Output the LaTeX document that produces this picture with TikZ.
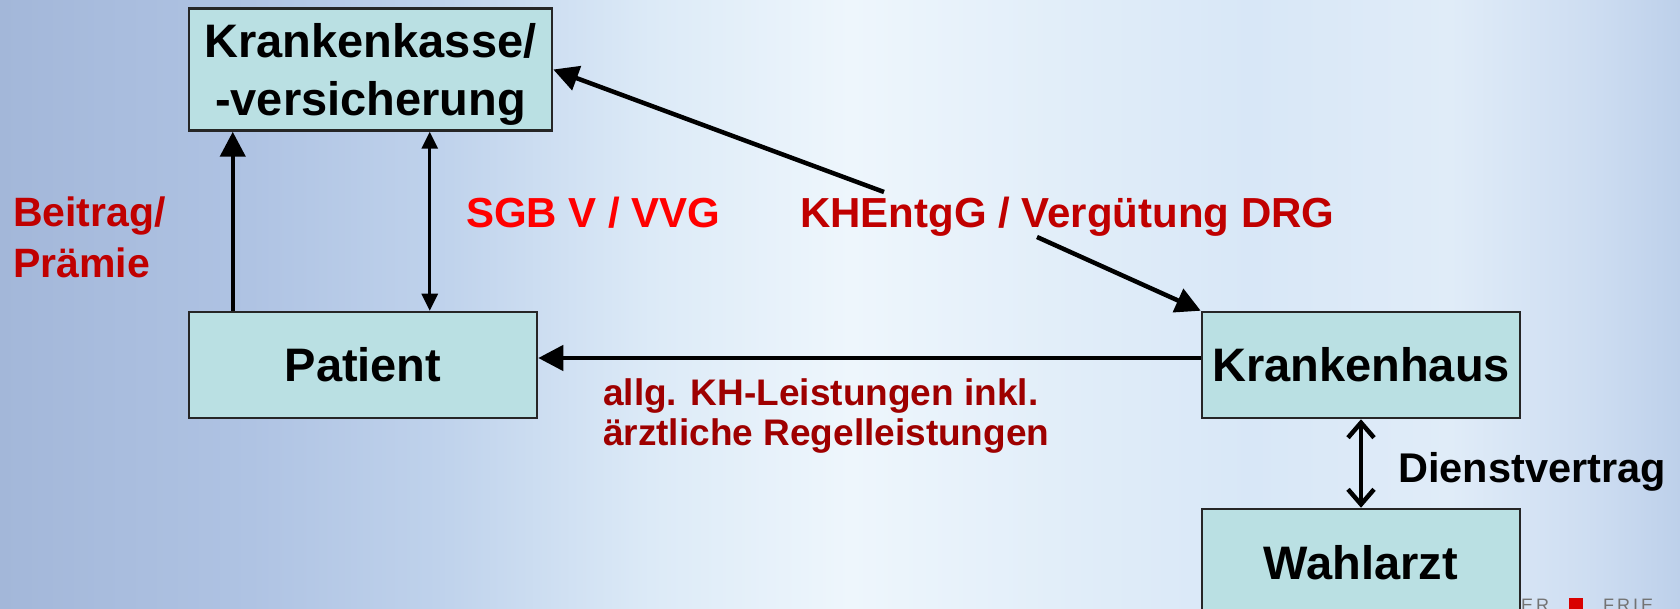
\documentclass[tikz,border=0pt]{standalone}
\usepackage{fontspec}
\setmainfont{Liberation Sans}
\usetikzlibrary{arrows.meta}
\definecolor{boxfill}{HTML}{BAE0E3}
\definecolor{dred}{HTML}{C00000}
\definecolor{ddred}{HTML}{9E0000}
\definecolor{bred}{HTML}{FF0000}
\definecolor{bgA}{HTML}{A3B7D9}
\definecolor{bgB}{HTML}{AFC3E3}
\definecolor{bgC}{HTML}{C0D3EC}
\definecolor{bgD}{HTML}{DCEAF7}
\definecolor{bgE}{HTML}{EEF6FC}
\definecolor{bgF}{HTML}{E2EEF9}
\definecolor{bgG}{HTML}{D8E7F7}
\definecolor{bgH}{HTML}{E0ECF8}
\definecolor{bgI}{HTML}{CCDCF1}
\definecolor{bgJ}{HTML}{BDD0EA}
\begin{document}
\begin{tikzpicture}[x=1pt,y=-1pt,
  box/.style={draw=black!85, line width=2.5pt, fill=boxfill, inner sep=0pt,
    align=center, font=\bfseries\fontsize{47}{58}\selectfont},
  arr/.style={line width=4.5pt, -{Triangle[length=25pt,width=25pt]}},
  sarr/.style={line width=3pt, {Triangle[length=17pt,width=16pt]}-{Triangle[length=17pt,width=16pt]}},
  barb/.style={line width=4.5pt, line cap=round, {Straight Barb[length=15pt,width=26pt,line width=4.5pt]}-{Straight Barb[length=15pt,width=26pt,line width=4.5pt]}},
  lbl/.style={anchor=base west, inner sep=0pt, align=left}]
\useasboundingbox (0,0) rectangle (1680,609);
\clip (0,0) rectangle (1680,609);
% background
\shade[left color=bgA, right color=bgB] (0,0) rectangle (250.5,609);
\shade[left color=bgB, right color=bgC] (250,0) rectangle (450.5,609);
\shade[left color=bgC, right color=bgD] (450,0) rectangle (650.5,609);
\shade[left color=bgD, right color=bgE] (650,0) rectangle (850.5,609);
\shade[left color=bgE, right color=bgF] (850,0) rectangle (1050.5,609);
\shade[left color=bgF, right color=bgG] (1050,0) rectangle (1250.5,609);
\shade[left color=bgG, right color=bgH] (1250,0) rectangle (1450.5,609);
\shade[left color=bgH, right color=bgI] (1450,0) rectangle (1600.5,609);
\shade[left color=bgI, right color=bgJ] (1600,0) rectangle (1680,609);
% logo fragment
\node[anchor=base west, inner sep=0pt, text=black!55, font=\fontsize{18}{18}\selectfont] (logo) at (1521,611)
  {E\hspace{3pt}R\hspace{20pt}\textcolor{red!85!black}{\rule{14pt}{13pt}}\hspace{20pt}F\hspace{3pt}R\hspace{3pt}I\hspace{3pt}E};
% boxes
\node[box, minimum width=363pt, minimum height=122pt, text depth=0pt] (kk) at (370.5,69.5) {Krankenkasse/\\-versicherung};
\node[box, minimum width=348pt, minimum height=106pt] (pat) at (363,365) {Patient};
\node[box, minimum width=318pt, minimum height=106pt] (kh) at (1361,365) {Krankenhaus};
\node[box, minimum width=318pt, minimum height=108pt] (wa) at (1361,563) {Wahlarzt};
% free ends
\coordinate (d1) at (884,192);
\coordinate (d2) at (1037,237);
% connectors
\draw[arr] ([xshift=45pt]pat.north west) -- ([xshift=45pt]kk.south west);
\draw[sarr] ([xshift=242pt]pat.north west) -- ([xshift=242pt]kk.south west);
\draw[arr] ([yshift=7pt]kh.west) -- ([yshift=7pt]pat.east);
\draw[arr] (d1) -- (kk.east);
\draw[arr] (d2) -- (kh.north west);
\draw[barb] (kh.south) -- (wa.north);
% labels
\node[lbl, text=dred, font=\bfseries\fontsize{41}{51}\selectfont] (beitrag) at (13,278) {Beitrag/\\Prämie};
\node[lbl, text=bred, font=\bfseries\fontsize{42}{50}\selectfont] (sgb) at (466,228) {SGB V / VVG};
\node[lbl, text=dred, font=\bfseries\fontsize{42}{50}\selectfont] (khe) at (800,228) {KHEntgG / Vergütung DRG};
\node[lbl, text=ddred, font=\bfseries\fontsize{37}{40}\selectfont] (allg) at (603,445) {allg. KH-Leistungen inkl.\\ärztliche Regelleistungen};
\node[lbl, font=\bfseries\fontsize{41.5}{48}\selectfont] (dv) at (1398,482) {Dienstvertrag};
\end{tikzpicture}
\end{document}
